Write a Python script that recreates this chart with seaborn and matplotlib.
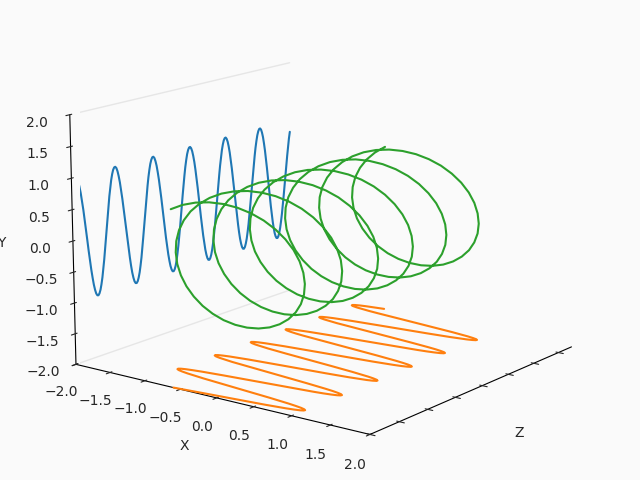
#!/usr/bin/env python3
"""Helix in 3D with its shadows on the X and Y walls"""

import matplotlib
matplotlib.use("Agg")
import matplotlib.pyplot as plt
import seaborn as sns

# one sample every 10 degrees, six turns
x_vals = [
    -0.597, -0.449, -0.287, -0.116, 0.058, 0.231, 0.396, 0.549, 0.686, 0.802, 0.894, 0.958,
    0.993, 0.998, 0.973, 0.918, 0.836, 0.727, 0.597, 0.449, 0.287, 0.116, -0.058, -0.231,
    -0.396, -0.549, -0.686, -0.802, -0.894, -0.958, -0.993, -0.998, -0.973, -0.918, -0.836, -0.727,
    -0.597, -0.449, -0.287, -0.116, 0.058, 0.231, 0.396, 0.549, 0.686, 0.802, 0.894, 0.958,
    0.993, 0.998, 0.973, 0.918, 0.836, 0.727, 0.597, 0.449, 0.287, 0.116, -0.058, -0.231,
    -0.396, -0.549, -0.686, -0.802, -0.894, -0.958, -0.993, -0.998, -0.973, -0.918, -0.836, -0.727,
    -0.597, -0.449, -0.287, -0.116, 0.058, 0.231, 0.396, 0.549, 0.686, 0.802, 0.894, 0.958,
    0.993, 0.998, 0.973, 0.918, 0.836, 0.727, 0.597, 0.449, 0.287, 0.116, -0.058, -0.231,
    -0.396, -0.549, -0.686, -0.802, -0.894, -0.958, -0.993, -0.998, -0.973, -0.918, -0.836, -0.727,
    -0.597, -0.449, -0.287, -0.116, 0.058, 0.231, 0.396, 0.549, 0.686, 0.802, 0.894, 0.958,
    0.993, 0.998, 0.973, 0.918, 0.836, 0.727, 0.597, 0.449, 0.287, 0.116, -0.058, -0.231,
    -0.396, -0.549, -0.686, -0.802, -0.894, -0.958, -0.993, -0.998, -0.973, -0.918, -0.836, -0.727,
    -0.597, -0.449, -0.287, -0.116, 0.058, 0.231, 0.396, 0.549, 0.686, 0.802, 0.894, 0.958,
    0.993, 0.998, 0.973, 0.918, 0.836, 0.727, 0.597, 0.449, 0.287, 0.116, -0.058, -0.231,
    -0.396, -0.549, -0.686, -0.802, -0.894, -0.958, -0.993, -0.998, -0.973, -0.918, -0.836, -0.727,
    -0.597, -0.449, -0.287, -0.116, 0.058, 0.231, 0.396, 0.549, 0.686, 0.802, 0.894, 0.958,
    0.993, 0.998, 0.973, 0.918, 0.836, 0.727, 0.597, 0.449, 0.287, 0.116, -0.058, -0.231,
    -0.396, -0.549, -0.686, -0.802, -0.894, -0.958, -0.993, -0.998, -0.973, -0.918, -0.836, -0.727,
    -0.597,
]
y_vals = [
    0.802, 0.894, 0.958, 0.993, 0.998, 0.973, 0.918, 0.836, 0.727, 0.597, 0.449, 0.287,
    0.116, -0.058, -0.231, -0.396, -0.549, -0.686, -0.802, -0.894, -0.958, -0.993, -0.998, -0.973,
    -0.918, -0.836, -0.727, -0.597, -0.449, -0.287, -0.116, 0.058, 0.231, 0.396, 0.549, 0.686,
    0.802, 0.894, 0.958, 0.993, 0.998, 0.973, 0.918, 0.836, 0.727, 0.597, 0.449, 0.287,
    0.116, -0.058, -0.231, -0.396, -0.549, -0.686, -0.802, -0.894, -0.958, -0.993, -0.998, -0.973,
    -0.918, -0.836, -0.727, -0.597, -0.449, -0.287, -0.116, 0.058, 0.231, 0.396, 0.549, 0.686,
    0.802, 0.894, 0.958, 0.993, 0.998, 0.973, 0.918, 0.836, 0.727, 0.597, 0.449, 0.287,
    0.116, -0.058, -0.231, -0.396, -0.549, -0.686, -0.802, -0.894, -0.958, -0.993, -0.998, -0.973,
    -0.918, -0.836, -0.727, -0.597, -0.449, -0.287, -0.116, 0.058, 0.231, 0.396, 0.549, 0.686,
    0.802, 0.894, 0.958, 0.993, 0.998, 0.973, 0.918, 0.836, 0.727, 0.597, 0.449, 0.287,
    0.116, -0.058, -0.231, -0.396, -0.549, -0.686, -0.802, -0.894, -0.958, -0.993, -0.998, -0.973,
    -0.918, -0.836, -0.727, -0.597, -0.449, -0.287, -0.116, 0.058, 0.231, 0.396, 0.549, 0.686,
    0.802, 0.894, 0.958, 0.993, 0.998, 0.973, 0.918, 0.836, 0.727, 0.597, 0.449, 0.287,
    0.116, -0.058, -0.231, -0.396, -0.549, -0.686, -0.802, -0.894, -0.958, -0.993, -0.998, -0.973,
    -0.918, -0.836, -0.727, -0.597, -0.449, -0.287, -0.116, 0.058, 0.231, 0.396, 0.549, 0.686,
    0.802, 0.894, 0.958, 0.993, 0.998, 0.973, 0.918, 0.836, 0.727, 0.597, 0.449, 0.287,
    0.116, -0.058, -0.231, -0.396, -0.549, -0.686, -0.802, -0.894, -0.958, -0.993, -0.998, -0.973,
    -0.918, -0.836, -0.727, -0.597, -0.449, -0.287, -0.116, 0.058, 0.231, 0.396, 0.549, 0.686,
    0.802,
]
z_vals = [
    0.00, 0.17, 0.35, 0.52, 0.70, 0.87, 1.05, 1.22, 1.40, 1.57, 1.75, 1.92,
    2.09, 2.27, 2.44, 2.62, 2.79, 2.97, 3.14, 3.32, 3.49, 3.67, 3.84, 4.01,
    4.19, 4.36, 4.54, 4.71, 4.89, 5.06, 5.24, 5.41, 5.59, 5.76, 5.93, 6.11,
    6.28, 6.46, 6.63, 6.81, 6.98, 7.16, 7.33, 7.50, 7.68, 7.85, 8.03, 8.20,
    8.38, 8.55, 8.73, 8.90, 9.08, 9.25, 9.42, 9.60, 9.77, 9.95, 10.12, 10.30,
    10.47, 10.65, 10.82, 11.00, 11.17, 11.34, 11.52, 11.69, 11.87, 12.04, 12.22, 12.39,
    12.57, 12.74, 12.92, 13.09, 13.26, 13.44, 13.61, 13.79, 13.96, 14.14, 14.31, 14.49,
    14.66, 14.83, 15.01, 15.18, 15.36, 15.53, 15.71, 15.88, 16.06, 16.23, 16.41, 16.58,
    16.76, 16.93, 17.10, 17.28, 17.45, 17.63, 17.80, 17.98, 18.15, 18.33, 18.50, 18.67,
    18.85, 19.02, 19.20, 19.37, 19.55, 19.72, 19.90, 20.07, 20.25, 20.42, 20.59, 20.77,
    20.94, 21.12, 21.29, 21.47, 21.64, 21.82, 21.99, 22.17, 22.34, 22.51, 22.69, 22.86,
    23.04, 23.21, 23.39, 23.56, 23.74, 23.91, 24.09, 24.26, 24.43, 24.61, 24.78, 24.96,
    25.13, 25.31, 25.48, 25.66, 25.83, 26.00, 26.18, 26.35, 26.53, 26.70, 26.88, 27.05,
    27.23, 27.40, 27.58, 27.75, 27.93, 28.10, 28.27, 28.45, 28.62, 28.80, 28.97, 29.15,
    29.32, 29.50, 29.67, 29.85, 30.02, 30.19, 30.37, 30.54, 30.72, 30.89, 31.07, 31.24,
    31.42, 31.59, 31.77, 31.94, 32.11, 32.29, 32.46, 32.64, 32.81, 32.99, 33.16, 33.34,
    33.51, 33.69, 33.86, 34.03, 34.21, 34.38, 34.56, 34.73, 34.91, 35.08, 35.26, 35.43,
    35.60, 35.78, 35.95, 36.13, 36.30, 36.48, 36.65, 36.83, 37.00, 37.18, 37.35, 37.52,
    37.70,
]
x_wall = [-2.0] * len(z_vals)
y_floor = [-2.0] * len(z_vals)
x_ticks = [-2.0, -1.5, -1.0, -0.5, 0.0, 0.5, 1.0, 1.5, 2.0]
y_ticks = [-2.0, -1.5, -1.0, -0.5, 0.0, 0.5, 1.0, 1.5, 2.0]
z_ticks = [0, 5, 10, 15, 20, 25, 30, 35]
x_lim = [-2, 2]
y_lim = [-2, 2]
z_lim = [37.7, 0]

sns.set_style("white")
palette = sns.color_palette("tab10")
bg = "#fafafa"

fig = plt.figure(figsize=(6.4, 4.8), dpi=100, facecolor=bg)
# full figure axes, a tighter box clips the curves at its left edge
ax = fig.add_axes([0, 0, 1, 1], projection="3d", facecolor=bg)
ax.computed_zorder = False

# the two faint edges left of the X wall
for edge_y in y_lim:
    ax.plot([x_lim[0]] * 2, [edge_y] * 2, z_lim, color="#e6e6e6", lw=1)

ax.plot(x_wall, y_vals, z_vals, color=palette[0])
ax.plot(x_vals, y_floor, z_vals, color=palette[1])
ax.plot(x_vals, y_vals, z_vals, color=palette[2])

ax.set_xlim(x_lim)
ax.set_ylim(y_lim)
ax.set_zlim(z_lim)
ax.set_xticks(x_ticks)
ax.set_yticks(y_ticks)
ax.set_zticks(z_ticks)
ax.set_zticklabels([])
ax.set_xlabel("X")
ax.set_ylabel("Y")
ax.set_zlabel("Z")
ax.grid(False)
for axis in (ax.xaxis, ax.yaxis, ax.zaxis):
    axis.set_pane_color((1, 1, 1, 0))
    axis.line.set_color("black")

ax.view_init(elev=14.2, azim=37, vertical_axis="y")
ax.set_box_aspect((4, 2.80, 3.85), zoom=1.144)

plt.savefig("out.png", dpi=100, facecolor=bg)
